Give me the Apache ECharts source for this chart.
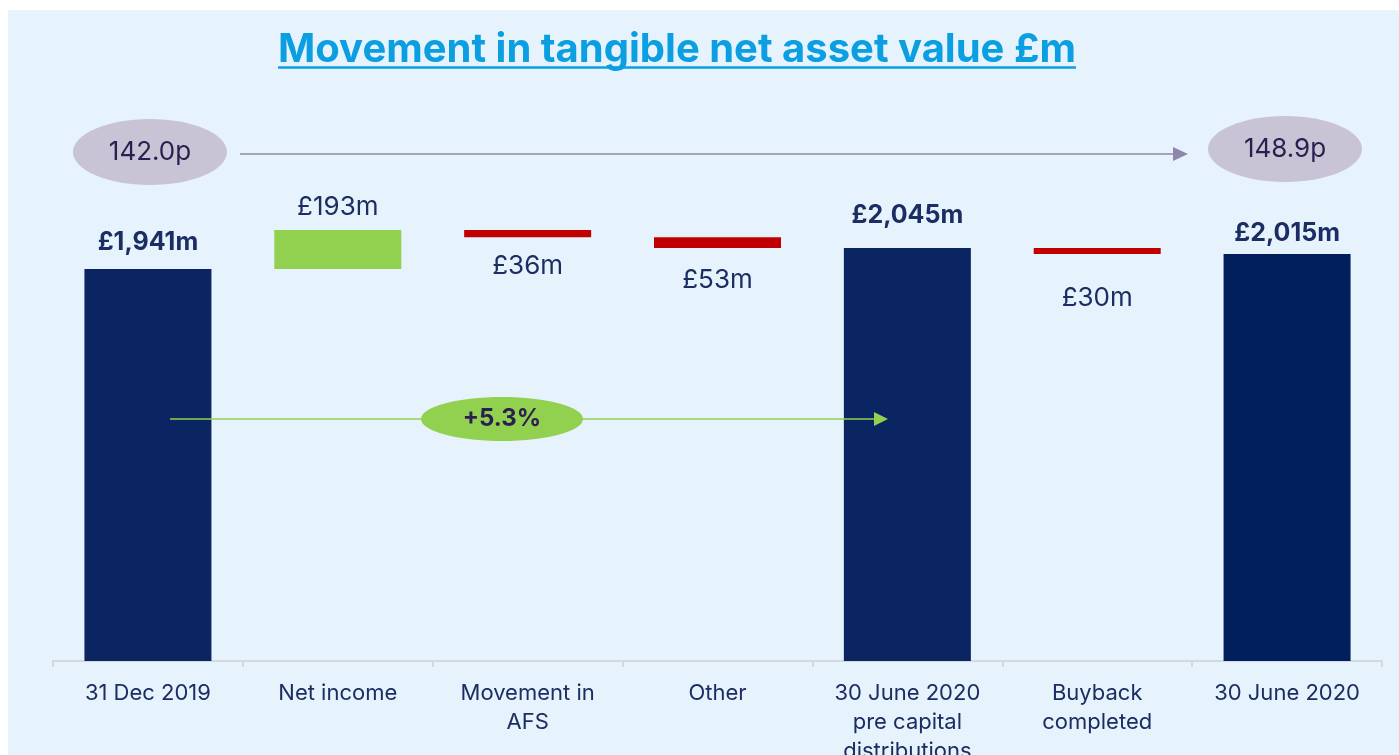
<!DOCTYPE html>
<html>
<head>
<meta charset="utf-8">
<script src="https://cdn.jsdelivr.net/npm/echarts@6/dist/echarts.min.js"></script>
<style>
  html, body { margin: 0; padding: 0; background: #ffffff; }
  #chart_nav { width: 1399px; height: 755px; }
</style>
</head>
<body>
<div id="chart_nav"></div>
<script>
// categories and waterfall steps (£m)
var categories = ['31 Dec 2019', 'Net income', 'Movement in\nAFS', 'Other',
  '30 June 2020\npre capital\ndistributions', 'Buyback\ncompleted', '30 June 2020'];
var stepValues = [1941, 193, -36, -53, 2045, -30, 2015];
var isTotal = [true, false, false, false, true, false, true];
var navPerShare = ['142.0p', '148.9p'];
var navGrowth = '+5.3%';

// label gap from the bar edge, px (hand placed in the original)
var labelGap = [14, 10, 16, 19, 20, 31, 8];

var NAVY = '#0a2562';
var NAVY_LAST = '#001f5c';
var GREEN = '#92d050';
var RED = '#c00000';
var TEXT = '#1b2d62';

var baseData = [];
var barData = [];
var running = 0;
stepValues.forEach(function (v, i) {
  var color, base, h, pos;
  if (isTotal[i]) {
    base = 0; h = v; running = v;
    color = i === stepValues.length - 1 ? NAVY_LAST : NAVY;
    pos = 'top';
  } else if (v >= 0) {
    base = running; h = v; running += v;
    color = GREEN; pos = 'top';
  } else {
    running += v; base = running; h = -v;
    color = RED; pos = 'bottom';
  }
  baseData.push(base);
  barData.push({
    value: h,
    itemStyle: { color: color },
    label: {
      show: true,
      position: pos,
      distance: labelGap[i],
      fontWeight: isTotal[i] ? 'bold' : 'normal',
      fontSize: isTotal[i] ? 25 : 26
    }
  });
});

function fmt(i) {
  var v = Math.abs(stepValues[i]);
  return '£' + v.toLocaleString('en-GB') + 'm';
}

var FONT = 'Inter, "Noto Sans", sans-serif';

// title width for the underline
var titleText = 'Movement in tangible net asset value £m';
var titleFont = 'bold 40px Inter';
var ctx = document.createElement('canvas').getContext('2d');
ctx.font = titleFont;
var titleW = ctx.measureText(titleText).width;
var titleCx = 677;

var option = {
  backgroundColor: '#ffffff',
  textStyle: { fontFamily: FONT },
  animation: false,
  grid: { left: 53, right: 17, top: 156, bottom: 94, outerBoundsMode: 'none', containLabel: false },
  xAxis: {
    type: 'category',
    data: categories,
    axisLine: { lineStyle: { color: '#d6d9dc', width: 2 } },
    axisTick: { show: true, length: 6, lineStyle: { color: '#d6d9dc', width: 2 } },
    axisLabel: {
      color: TEXT, fontSize: 22, lineHeight: 29, margin: 18,
      fontFamily: FONT, interval: 0
    }
  },
  yAxis: {
    type: 'value', min: 0, max: 2500,
    show: false, splitLine: { show: false }
  },
  series: [
    {
      type: 'bar', stack: 'wf', barWidth: 127, silent: true,
      itemStyle: { color: 'transparent' },
      data: baseData
    },
    {
      type: 'bar', stack: 'wf', barWidth: 127,
      label: {
        color: TEXT, fontFamily: FONT,
        formatter: function (p) { return fmt(p.dataIndex); }
      },
      data: barData
    }
  ],
  graphic: [
    { type: 'rect', z: -10, silent: true,
      shape: { x: 8, y: 10, width: 1391, height: 745 },
      style: { fill: '#e6f3fc' } },
    { type: 'text', z: 10,
      style: { text: titleText, x: titleCx, y: 50, align: 'center', verticalAlign: 'middle',
        font: titleFont, fill: '#0b9fe2' } },
    { type: 'line', z: 10,
      shape: { x1: titleCx - titleW / 2, y1: 67.5, x2: titleCx + titleW / 2, y2: 67.5 },
      style: { stroke: '#0b9fe2', lineWidth: 2.5 } },
    // NAV per share arrow
    { type: 'line', z: 10,
      shape: { x1: 240, y1: 154, x2: 1176, y2: 154 },
      style: { stroke: '#8f86ab', lineWidth: 1.5 } },
    { type: 'polygon', z: 10,
      shape: { points: [[1188, 154], [1173, 147], [1173, 161]] },
      style: { fill: '#8f86ab' } },
    { type: 'ellipse', z: 10,
      shape: { cx: 150, cy: 152, rx: 77, ry: 33 },
      style: { fill: '#c9c4d5' } },
    { type: 'text', z: 11,
      style: { text: navPerShare[0], x: 150, y: 152, align: 'center', verticalAlign: 'middle',
        font: '26px ' + FONT, fill: '#2a1f4f' } },
    { type: 'ellipse', z: 10,
      shape: { cx: 1285, cy: 149, rx: 77, ry: 33 },
      style: { fill: '#c9c4d5' } },
    { type: 'text', z: 11,
      style: { text: navPerShare[1], x: 1285, y: 149, align: 'center', verticalAlign: 'middle',
        font: '26px ' + FONT, fill: '#2a1f4f' } },
    // growth arrow
    { type: 'line', z: 10,
      shape: { x1: 170, y1: 419, x2: 876, y2: 419 },
      style: { stroke: GREEN, lineWidth: 1.5 } },
    { type: 'polygon', z: 10,
      shape: { points: [[888, 419], [874, 412], [874, 426]] },
      style: { fill: GREEN } },
    { type: 'ellipse', z: 10,
      shape: { cx: 502, cy: 419, rx: 81, ry: 22 },
      style: { fill: GREEN } },
    { type: 'text', z: 11,
      style: { text: navGrowth, x: 502, y: 419, align: 'center', verticalAlign: 'middle',
        font: 'bold 24px ' + FONT, fill: '#2a1f4f' } }
  ]
};

var chart_nav = echarts.init(document.getElementById('chart_nav'), null, { renderer: 'canvas' });
chart_nav.setOption(option);
</script>
</body>
</html>
